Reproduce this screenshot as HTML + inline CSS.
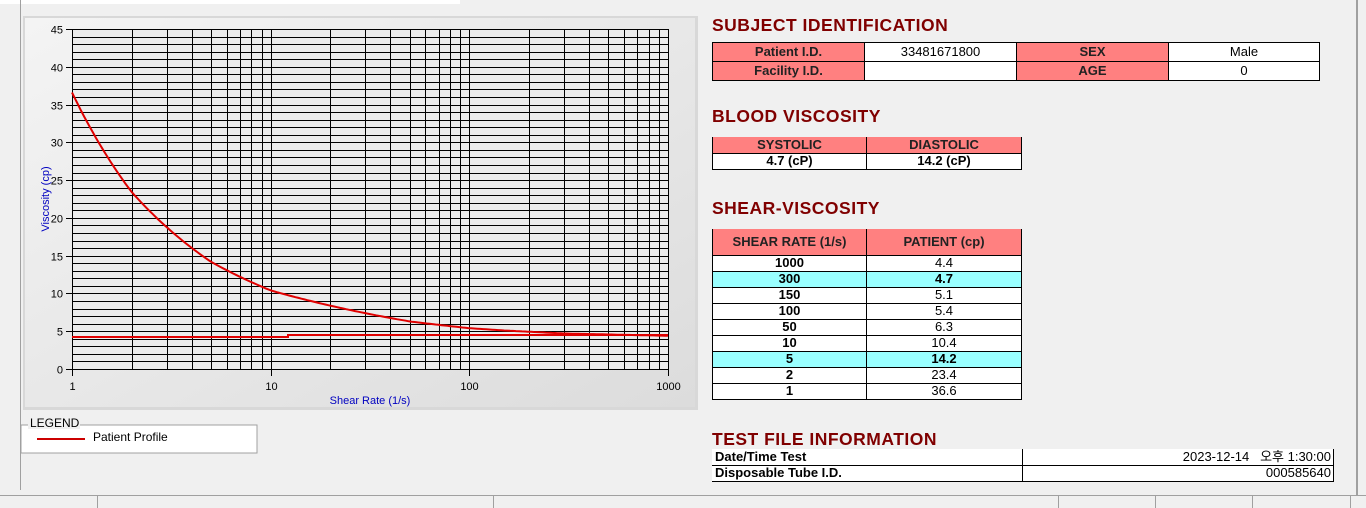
<!DOCTYPE html>
<html><head><meta charset="utf-8"><style>
*{margin:0;padding:0;box-sizing:border-box}
body{width:1366px;height:508px;background:#f0f0f0;position:relative;overflow:hidden;font-family:Tahoma,"Liberation Sans","Noto Sans CJK KR",sans-serif}
.abs{position:absolute}
h2{position:absolute;left:712px;font-size:17.5px;font-weight:bold;color:#800000;font-family:"Liberation Sans",sans-serif;letter-spacing:0.5px}
table{position:absolute;border-collapse:collapse;font-size:13px;font-family:"Liberation Sans","Noto Sans CJK KR",sans-serif}
td{border:1px solid #000;text-align:center;padding:0;line-height:14px}
.p{background:#ff8080;font-weight:bold;color:#222}
.w{background:#fff}
.c{background:#99ffff}
.b{font-weight:bold}
</style></head><body>
<div class="abs" style="left:0;top:0;width:460px;height:4px;background:#fff"></div>
<div class="abs" style="left:20px;top:0;width:1px;height:490px;background:#a0a0a0"></div>
<div class="abs" style="left:1356px;top:0;width:2px;height:495px;background:#a0a0a0"></div>
<svg class="abs" style="left:0;top:0" width="700" height="460" id="ch">
<defs><linearGradient id="g" x1="0" y1="0" x2="1" y2="1"><stop offset="0" stop-color="#f4f4f4"/><stop offset="1" stop-color="#dcdcdc"/></linearGradient></defs>
<rect x="23" y="16" width="675" height="394" fill="#d8d8d8"/>
<rect x="25" y="18" width="670" height="389" fill="url(#g)"/>
<rect x="72" y="29" width="596" height="340" fill="#ececec"/>
<g id="grid" stroke="#000" stroke-width="1"></g>
<g id="lab" font-family="Liberation Sans,sans-serif" font-size="11" fill="#000"></g>
<text x="370" y="404" font-family="Liberation Sans,sans-serif" font-size="11" fill="#0000c0" text-anchor="middle">Shear Rate (1/s)</text>
<text transform="translate(49,199) rotate(-90)" font-family="Liberation Sans,sans-serif" font-size="11" fill="#0000c0" text-anchor="middle">Viscosity (cp)</text>
<path id="flat" d="M72 337 H288 V335 H668" stroke="#e00000" stroke-width="2" fill="none"/>
<path id="cur" stroke="#e00000" stroke-width="2" fill="none"/>
<rect x="21" y="425" width="236" height="28" fill="#fff" stroke="#a0a0a0"/>
<rect x="28" y="417" width="52" height="12" fill="#f0f0f0"/>
<text x="30" y="427" font-family="Liberation Sans,sans-serif" font-size="12">LEGEND</text>
<line x1="37" y1="439" x2="85" y2="439" stroke="#cc0000" stroke-width="2"/>
<text x="93" y="441" font-family="Liberation Sans,sans-serif" font-size="12">Patient Profile</text>
</svg>
<script>
(function(){
var X0=72,DW=(668-72)/3,Y0=369,K=340/45,g=document.getElementById('grid'),l=document.getElementById('lab'),s='',t='';
function x(v){return X0+Math.log10(v)*DW}
function y(v){return Y0-v*K}
for(var i=0;i<=45;i++){var yy=Math.round(y(i))+.5;s+='<line x1="72" x2="668" y1="'+yy+'" y2="'+yy+'"/>';}
for(var d=1;d<=100;d*=10)for(var m=1;m<=10;m++){var xx=Math.round(x(d*m))+.5;s+='<line y1="29" y2="369" x1="'+xx+'" x2="'+xx+'"/>';}
for(var i=0;i<=45;i+=5){var yy=Math.round(y(i))+.5;s+='<line x1="66" x2="72" y1="'+yy+'" y2="'+yy+'"/>';t+='<text x="63" y="'+(yy+4)+'" text-anchor="end">'+i+'</text>';}
[1,10,100,1000].forEach(function(v){var xx=Math.round(x(v))+.5;s+='<line y1="369" y2="376" x1="'+xx+'" x2="'+xx+'"/>';t+='<text x="'+xx+'" y="390" text-anchor="middle">'+v+'</text>';});
g.innerHTML=s;l.innerHTML=t;
var P=[[1,36.6],[2,23.4],[5,14.2],[10,10.4],[50,6.3],[100,5.4],[150,5.1],[300,4.7],[1000,4.4]],d='';
for(var k=0;k<=200;k++){var lv=k/200*3,v=Math.pow(10,lv),j=0;while(j<P.length-2&&v>P[j+1][0])j++;
var a=P[j],b=P[j+1],f=(Math.log(v)-Math.log(a[0]))/(Math.log(b[0])-Math.log(a[0]));
var vv=Math.exp(Math.log(a[1])+f*(Math.log(b[1])-Math.log(a[1])));d+=(k?'L':'M')+x(v).toFixed(1)+' '+y(vv).toFixed(1);}
document.getElementById('cur').setAttribute('d',d);
})();
</script>
<h2 style="top:15px">SUBJECT IDENTIFICATION</h2>
<table style="left:712px;top:42px;width:608px">
<tr style="height:19px"><td class="p" style="width:152px">Patient I.D.</td><td class="w" style="width:152px">33481671800</td><td class="p" style="width:152px">SEX</td><td class="w">Male</td></tr>
<tr style="height:19px"><td class="p">Facility I.D.</td><td class="w"></td><td class="p">AGE</td><td class="w">0</td></tr>
</table>
<h2 style="top:106px">BLOOD VISCOSITY</h2>
<table style="left:712px;top:137px;width:310px">
<tr style="height:16px"><td class="p" style="width:154px;border-top:none">SYSTOLIC</td><td class="p" style="border-top:none">DIASTOLIC</td></tr>
<tr style="height:16px" class="w"><td class="b">4.7 (cP)</td><td class="b">14.2 (cP)</td></tr>
</table>
<h2 style="top:198px">SHEAR-VISCOSITY</h2>
<table style="left:712px;top:229px;width:310px">
<tr style="height:26px"><td class="p" style="width:154px;border-top:none">SHEAR RATE (1/s)</td><td class="p" style="border-top:none">PATIENT (cp)</td></tr>
<tr style="height:16px" class="w"><td class="b">1000</td><td>4.4</td></tr>
<tr style="height:16px" class="c"><td class="b">300</td><td class="b">4.7</td></tr>
<tr style="height:16px" class="w"><td class="b">150</td><td>5.1</td></tr>
<tr style="height:16px" class="w"><td class="b">100</td><td>5.4</td></tr>
<tr style="height:16px" class="w"><td class="b">50</td><td>6.3</td></tr>
<tr style="height:16px" class="w"><td class="b">10</td><td>10.4</td></tr>
<tr style="height:16px" class="c"><td class="b">5</td><td class="b">14.2</td></tr>
<tr style="height:16px" class="w"><td class="b">2</td><td>23.4</td></tr>
<tr style="height:16px" class="w"><td class="b">1</td><td>36.6</td></tr>
</table>
<h2 style="top:429px">TEST FILE INFORMATION</h2>
<table style="left:712px;top:449px;width:622px">
<tr style="height:16px" class="w"><td class="b" style="width:310px;text-align:left;padding-left:3px;border-top:none;border-left:none">Date/Time Test</td><td style="text-align:right;padding-right:2px;border-top:none">2023-12-14 &nbsp;&nbsp;오후 1:30:00</td></tr>
<tr style="height:16px" class="w"><td class="b" style="text-align:left;padding-left:3px;border-left:none">Disposable Tube I.D.</td><td style="text-align:right;padding-right:2px">000585640</td></tr>
</table>
<div class="abs" style="left:0;top:495px;width:1366px;height:13px;background:#f0f0f0;border-top:1px solid #a0a0a0"></div>
<div class="abs" style="left:97px;top:495px;width:1px;height:13px;background:#a0a0a0"></div>
<div class="abs" style="left:493px;top:495px;width:1px;height:13px;background:#a0a0a0"></div>
<div class="abs" style="left:1058px;top:495px;width:1px;height:13px;background:#a0a0a0"></div>
<div class="abs" style="left:1155px;top:495px;width:1px;height:13px;background:#a0a0a0"></div>
<div class="abs" style="left:1252px;top:495px;width:1px;height:13px;background:#a0a0a0"></div>
<div class="abs" style="left:1350px;top:495px;width:1px;height:13px;background:#a0a0a0"></div>
</body></html>
